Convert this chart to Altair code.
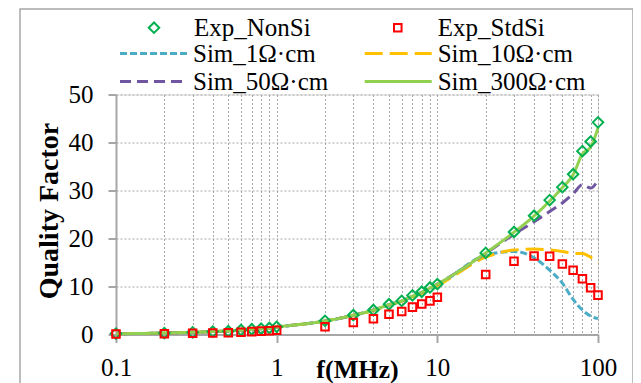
import altair as alt
import pandas as pd

freqs = [0.1, 0.2, 0.3, 0.4, 0.5, 0.6, 0.7, 0.8, 0.9, 1, 2, 3, 4, 5, 6, 7, 8, 9, 10,
         20, 30, 40, 50, 60, 70, 80, 90, 100]

exp_nonsi = [0.2, 0.3, 0.45, 0.6, 0.7, 0.95, 1.1, 1.2, 1.35, 1.6,
             2.85, 4.05, 5.1, 6.3, 7.0, 8.15, 8.9, 9.8, 10.5,
             17.0, 21.35, 24.75, 28.0, 30.7, 33.4, 38.2, 40.2, 44.2]
exp_stdsi = [0.1, 0.15, 0.25, 0.3, 0.35, 0.45, 0.6, 0.7, 0.8, 0.9,
             1.6, 2.5, 3.3, 4.2, 4.8, 5.7, 6.35, 7.0, 7.75,
             12.5, 15.25, 16.35, 16.3, 14.7, 13.4, 11.6, 9.75, 8.2]

sim_1 = [0.15, 0.3, 0.45, 0.6, 0.75, 0.9, 1.05, 1.2, 1.35, 1.55,
         2.8, 4.0, 5.05, 6.15, 6.95, 7.9, 8.7, 9.6, 10.3,
         16.5, 17.3, 16.0, 13.4, 10.7, 7.3, 5.1, 3.85, 3.3]
sim_10 = [0.15, 0.3, 0.45, 0.6, 0.75, 0.9, 1.05, 1.2, 1.35, 1.55,
          2.8, 4.0, 5.0, 6.1, 6.9, 7.8, 8.6, 9.5, 10.2,
          16.1, 17.6, 17.8, 17.6, 17.3, 16.9, 16.9, 16.1, 15.0]
sim_50 = [0.15, 0.3, 0.45, 0.6, 0.75, 0.9, 1.05, 1.2, 1.35, 1.55,
          2.8, 4.0, 5.1, 6.2, 7.0, 8.0, 8.8, 9.7, 10.5,
          16.9, 20.9, 23.5, 25.6, 27.4, 29.3, 31.2, 30.5, 32.2]
sim_300 = [0.15, 0.3, 0.45, 0.6, 0.75, 0.9, 1.05, 1.2, 1.35, 1.55,
           2.8, 4.0, 5.1, 6.2, 7.0, 8.0, 8.8, 9.7, 10.5,
           17.0, 21.3, 24.7, 27.8, 30.6, 33.3, 37.6, 39.1, 43.0]

exp_names = ["Exp_NonSi", "Exp_StdSi"]
sim_names = ["Sim_1Ω·cm", "Sim_10Ω·cm", "Sim_50Ω·cm", "Sim_300Ω·cm"]
all_names = exp_names + sim_names
colors = ["#00B050", "#FF0000", "#4BACC6", "#FFC000", "#7056A0", "#92D050"]
dashes = [[7, 3], [18, 7], [11, 6], [1, 0]]
shape_paths = ["M-1,0L0,-1L1,0L0,1Z", "M-0.72,-0.72L0.72,-0.72L0.72,0.72L-0.72,0.72Z"]
y_ticks = [0, 10, 20, 30, 40, 50]

exp_df = pd.DataFrame({
    "f": freqs + freqs,
    "Q": exp_nonsi + exp_stdsi,
    "series": [exp_names[0]] * len(freqs) + [exp_names[1]] * len(freqs),
})
sim_values = [sim_1, sim_10, sim_50, sim_300]

FONT = "Liberation Serif"
GRID = "#a6a6a6"
major = "datum.value == 0.1 || datum.value == 1 || datum.value == 10 || datum.value == 100"

x_axis = alt.Axis(
    values=freqs, format="~g",
    labelExpr=f"({major}) ? datum.label : ''",
    tickOpacity={"condition": {"test": major, "value": 1}, "value": 0},
    grid=True, gridColor=GRID, gridDash=[2, 2], gridWidth=1,
    domainColor=GRID, domainWidth=2, tickColor=GRID, tickWidth=2, tickSize=8,
    labelFont=FONT, labelFontSize=25, labelColor="black", labelPadding=13,
    labelFlush=False, labelOverlap=False,
    title="f(MHz)", titleFont=FONT, titleFontSize=26, titleFontWeight="bold",
    titleColor="black", titleBaseline="alphabetic", titleY=42.5,
)
y_axis = alt.Axis(
    values=y_ticks, grid=True, gridColor=GRID, gridDash=[2, 2], gridWidth=1.2,
    domainColor=GRID, domainWidth=2, tickColor=GRID, tickWidth=2, tickSize=8,
    labelFont=FONT, labelFontSize=25, labelColor="black", labelPadding=15,
    title="Quality Factor", titleFont=FONT, titleFontSize=28, titleFontWeight="bold",
    titleColor="black", titleBaseline="alphabetic", titleX=-59, titleY=116,
)

x_enc = alt.X("f:Q", scale=alt.Scale(type="log", domain=[0.1, 100]), axis=x_axis)
y_enc = alt.Y("Q:Q", scale=alt.Scale(domain=[0, 50]), axis=y_axis)
color_enc = alt.Color("series:N", scale=alt.Scale(domain=all_names, range=colors), legend=None)
legend_stroke = {"expr": "scale('color', datum.value)"}

sim_legend = alt.Legend(
    title="", orient="none", legendX=2.5, legendY=-54, columns=2, direction="horizontal",
    columnPadding=34.7, rowPadding=2, padding=0, symbolType="stroke",
    symbolSize=4489, symbolStrokeWidth=3, labelOffset=4.5, clipHeight=26,
    labelFont=FONT, labelFontSize=25, labelColor="black", labelLimit=400,
    symbolStrokeColor=legend_stroke,
)
exp_legend = alt.Legend(
    title="", orient="none", legendX=25.5, legendY=-79.8, columns=2, direction="horizontal",
    columnPadding=73.8, rowPadding=0, padding=0,
    symbolSize=110, symbolStrokeWidth=2, labelOffset=27.5, clipHeight=26,
    labelFont=FONT, labelFontSize=25, labelColor="black", labelLimit=400,
    symbolStrokeColor=legend_stroke, symbolFillColor="transparent",
)
dash_enc = alt.StrokeDash("series:N", scale=alt.Scale(domain=sim_names, range=dashes),
                          legend=sim_legend)

frame = alt.Chart(pd.DataFrame({"a": [0]})).mark_rect(
    fill="transparent", stroke="#a6a6a6", strokeWidth=1.5
).encode(x=alt.value(-96), x2=alt.value(517), y=alt.value(-85.5), y2=alt.value(300))

layers = [frame]
for name, vals in zip(sim_names, sim_values):
    df = pd.DataFrame({"f": freqs, "Q": vals, "series": [name] * len(freqs)})
    layers.append(
        alt.Chart(df).mark_line(strokeWidth=3, interpolate="monotone").encode(
            x=x_enc, y=y_enc, color=color_enc, strokeDash=dash_enc
        )
    )

points = alt.Chart(exp_df).mark_point(filled=False, strokeWidth=2, size=110, opacity=1).encode(
    x=x_enc, y=y_enc, color=color_enc,
    shape=alt.Shape("series:N", scale=alt.Scale(domain=exp_names, range=shape_paths),
                    legend=exp_legend),
)
layers.append(points)

chart = alt.layer(*layers).properties(
    width=482, height=240,
    autosize=alt.AutoSizeParams(type="none"),
    padding={"left": 108, "top": 86.5, "right": 35, "bottom": 48.5},
).configure_view(stroke="transparent").configure(background="white")

chart.save("out.html", embed_options={"renderer": "svg", "actions": False})
